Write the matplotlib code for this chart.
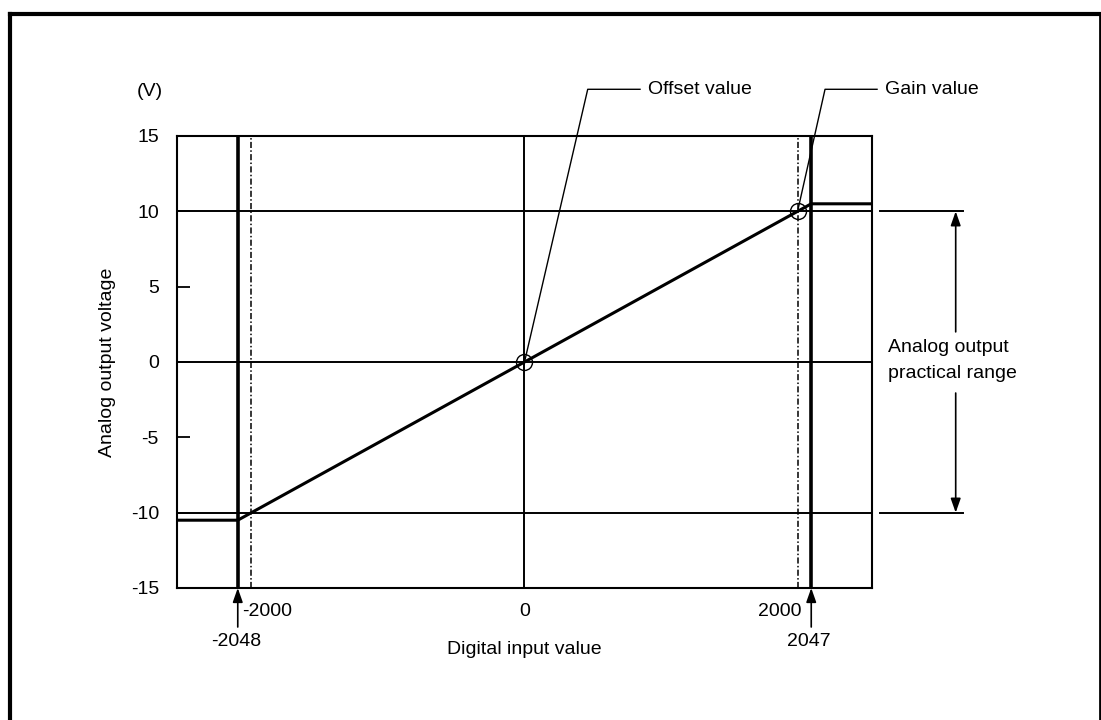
import matplotlib
matplotlib.use("Agg")
import matplotlib.pyplot as plt
from matplotlib.lines import Line2D

plt.rcParams['font.family'] = ['Liberation Sans', 'DejaVu Sans']

# ---- data ----
y_ticks = [15, 10, 5, 0, -5, -10, -15]
grid_y = [10, 0, -10]
grid_x = [0]
line_x = [-2545, -2100, 2100, 2545]          # drawn output characteristic
line_y = [-10.5, -10.5, 10.5, 10.5]
limit_x = [-2100, 2100]                      # drawn positions of digital limits
limit_labels = ['-2048', '2047']
setting_x = [-2000, 2000]                    # dash-dot marks
setting_labels = ['-2000', '2000']
points_x = [0, 2000]                         # offset / gain points
points_y = [0, 10]
point_labels = ['Offset value', 'Gain value']
range_y = [-10, 10]

FS = 14
W, H = 1101, 720
fig = plt.figure(figsize=(W / 100, H / 100), dpi=100)
ax = fig.add_axes([177 / W, 1 - 588 / H, 695 / W, 452 / H])
ax.set_xlim(-2545, 2545)
ax.set_ylim(-15, 15)

for s in ax.spines.values():
    s.set_linewidth(1.5)
ax.set_xticks([])
ax.set_yticks(y_ticks)
ax.set_yticklabels([str(v) for v in y_ticks], fontsize=FS)
ax.tick_params(axis='y', direction='in', length=9, width=1.3, pad=13)

for gy in grid_y:
    ax.axhline(gy, color='black', lw=1.4, zorder=1)
for gx in grid_x:
    ax.axvline(gx, color='black', lw=1.4, zorder=1)
for sx in setting_x:
    ax.axvline(sx, color='black', lw=1.1, ls=(0, (4, 1.5, 1, 1.5)), zorder=1)
for lx in limit_x:
    ax.axvline(lx, color='black', lw=2.6, zorder=2)

ax.plot(line_x, line_y, color='black', lw=2.2, zorder=3, solid_joinstyle='miter')
ax.plot(points_x, points_y, 'o', ms=11.5, mfc='none', mec='black', mew=1.0, zorder=4)

# leader lines to labels
elbow_x = [463, 2201]
end_x = [846, 2582]
lead_y = 18.1
for px, py, ex, hx, lab in zip(points_x, points_y, elbow_x, end_x, point_labels):
    ax.plot([px, ex, hx], [py, lead_y, lead_y], color='black', lw=1.0, clip_on=False, zorder=4)
    ax.text(hx + 60, lead_y, lab, fontsize=FS, ha='left', va='center', clip_on=False)

# x-axis value labels
ax.annotate('0', xy=(0, -15), xytext=(0, -24), textcoords='offset pixels',
            fontsize=FS, ha='center', va='center', annotation_clip=False)
ax.annotate(setting_labels[0], xy=(setting_x[0], -15), xytext=(16, -24), textcoords='offset pixels',
            fontsize=FS, ha='center', va='center', annotation_clip=False)
ax.annotate(setting_labels[1], xy=(setting_x[1], -15), xytext=(-18, -24), textcoords='offset pixels',
            fontsize=FS, ha='center', va='center', annotation_clip=False)

arrow_props = dict(arrowstyle='-|>,head_length=0.85,head_width=0.3',
                   color='black', lw=1.2, shrinkA=0, shrinkB=0, mutation_scale=10)
for lx, lab in zip(limit_x, limit_labels):
    ax.annotate('', xy=(lx, -15), xytext=(0, -39), textcoords='offset pixels',
                annotation_clip=False, arrowprops=arrow_props)
    ax.annotate(lab, xy=(lx, -15), xytext=(-2, -54), textcoords='offset pixels',
                fontsize=FS, ha='center', va='center', annotation_clip=False)

# practical range marker outside right of axes
for ry in range_y:
    ax.plot([2604, 3212], [ry, ry], color='black', lw=1.4, clip_on=False)
arrow_x = 3158
ax.annotate('', xy=(arrow_x, range_y[1]), xytext=(arrow_x, 2.0), annotation_clip=False,
            arrowprops=arrow_props)
ax.annotate('', xy=(arrow_x, range_y[0]), xytext=(arrow_x, -2.06), annotation_clip=False,
            arrowprops=arrow_props)
ax.text(2660, 0.1, 'Analog output\npractical range', fontsize=FS, ha='left', va='center',
        linespacing=1.75, clip_on=False)

# axis labels
fig.text(150 / W, 1 - 92 / H, '(V)', fontsize=FS, ha='center', va='center')
fig.text(107 / W, 1 - 362 / H, 'Analog output voltage', fontsize=FS, ha='center', va='center',
         rotation=90)
fig.text(524 / W, 1 - 650 / H, 'Digital input value', fontsize=FS, ha='center', va='center')

# outer frame (left, top, right)
lw_frame = 3.0
fig.add_artist(Line2D([10 / W, 10 / W], [0, 1 - 13.5 / H], transform=fig.transFigure,
                      color='black', lw=lw_frame, solid_capstyle='projecting'))
fig.add_artist(Line2D([10 / W, 1099.5 / W], [1 - 13.5 / H, 1 - 13.5 / H], transform=fig.transFigure,
                      color='black', lw=lw_frame, solid_capstyle='projecting'))
fig.add_artist(Line2D([1099.5 / W, 1099.5 / W], [0, 1 - 13.5 / H], transform=fig.transFigure,
                      color='black', lw=2.0))

fig.savefig('out.png', dpi=100)
